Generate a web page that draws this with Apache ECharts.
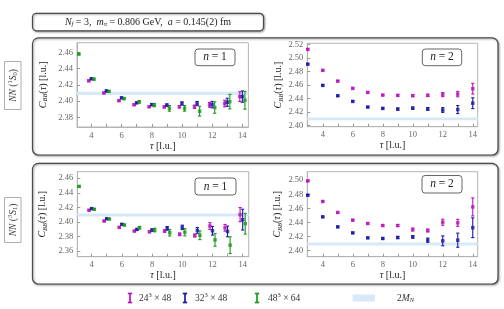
<!DOCTYPE html>
<html><head><meta charset="utf-8">
<script src="https://cdn.jsdelivr.net/npm/echarts@6/dist/echarts.min.js"></script>
<style>html,body{margin:0;padding:0;background:#fff}#c{width:504px;height:309px}</style>
</head><body><div id="c"></div>
<script>
// ---- data ----
const tau = [3,4,5,6,7,8,9,10,11,12,13,14];
const xTicks = [4,6,8,10,12,14];
const xMinorTicks = [4,5,6,7,8,9,10,11,12,13,14];
const band2MN = [2.4075, 2.4115];

// NN(1S0), n=1
const S0n1_L24 = [null,2.425,2.410,2.4005,2.3955,2.393,2.3928,2.393,2.393,2.3953,2.397,2.4055];
const S0n1_L24err = [null,0.001,0.001,0.001,0.001,0.001,0.0012,0.0015,0.002,0.003,0.004,0.006];
const S0n1_L32 = [null,2.4275,2.4125,2.404,2.3978,2.3956,2.395,2.397,2.397,2.3956,2.3985,2.4055];
const S0n1_L32err = [null,0.001,0.001,0.001,0.001,0.0012,0.0015,0.002,0.0025,0.004,0.005,0.007];
const S0n1_L48 = [2.458,2.427,2.412,2.403,2.399,2.395,2.391,2.391,2.3875,2.392,2.3993,2.401];
const S0n1_L48err = [0.001,0.001,0.001,0.0012,0.0015,0.002,0.0035,0.0035,0.006,0.007,0.009,0.011];
// NN(1S0), n=2
const S0n2_L24 = [2.513,2.4818,2.4658,2.455,2.449,2.445,2.4446,2.4442,2.4446,2.4457,2.4465,2.4545];
const S0n2_L24err = [0.001,0.001,0.001,0.001,0.001,0.001,0.0012,0.0014,0.0016,0.003,0.004,0.008];
const S0n2_L32 = [2.491,2.4594,2.444,2.4356,2.4272,2.4252,2.4242,2.4255,2.4245,2.4228,2.4235,2.433];
const S0n2_L32err = [0.001,0.001,0.001,0.001,0.001,0.0012,0.0015,0.0016,0.002,0.0035,0.006,0.008];
// NN(3S1), n=1
const S1n1_L24 = [null,2.416,2.4011,2.3924,2.3873,2.3863,2.3873,2.3828,2.3812,2.3942,2.3918,2.4099];
const S1n1_L24err = [null,0.001,0.001,0.001,0.001,0.0012,0.0015,0.0018,0.002,0.0046,0.0046,0.0097];
const S1n1_L32 = [null,2.4182,2.4043,2.3966,2.3896,2.3887,2.391,2.3924,2.3882,2.3877,2.3868,2.403];
const S1n1_L32err = [null,0.001,0.001,0.001,0.0012,0.0015,0.0025,0.003,0.004,0.006,0.0074,0.0143];
const S1n1_L48 = [2.4487,2.4173,2.4039,2.3956,2.3919,2.3887,2.385,2.3857,2.3815,2.3751,2.3679,2.3974];
const S1n1_L48err = [0.001,0.001,0.001,0.0012,0.0018,0.0025,0.0045,0.005,0.006,0.0087,0.0115,0.0143];
// NN(3S1), n=2
const S1n2_L24 = [2.499,2.4698,2.4542,2.4433,2.4386,2.4357,2.4357,2.430,2.4286,2.4404,2.4395,2.4621];
const S1n2_L24err = [0.001,0.001,0.001,0.001,0.001,0.0012,0.0014,0.002,0.002,0.0043,0.005,0.0128];
const S1n2_L32 = [2.4787,2.448,2.4338,2.4253,2.4182,2.4173,2.4187,2.4196,2.4149,2.414,2.4149,2.4326];
const S1n2_L32err = [0.001,0.001,0.001,0.001,0.001,0.0012,0.0015,0.0018,0.003,0.007,0.01,0.014];

const yTicksS0n1 = [2.38,2.40,2.42,2.44,2.46];
const yTicksS0n2 = [2.40,2.42,2.44,2.46,2.48,2.50,2.52];
const yTicksS1n1 = [2.36,2.38,2.40,2.42,2.44,2.46];
const yTicksS1n2 = [2.40,2.42,2.44,2.46,2.48,2.50];

const legendNames = ['24³ × 48','32³ × 48','48³ × 64'];
const panelLabels = [['NN (','1','S','0',')'],['NN (','3','S','1',')']];
const nLabels = ['1','2'];

// ---- styles ----
const serif = "'Liberation Serif','DejaVu Serif',serif";
const C24 = '#bb14bb', C32 = '#1a1aa6', C48 = '#1c981c';
const bandColor = '#d7e8f8';
const frameColor = '#b4b4b4';

const grids = [
  {left:77, top:42.7, width:171.4, height:84.3},
  {left:307.3, top:43.3, width:170.4, height:83.4},
  {left:77.3, top:171.7, width:171.4, height:85},
  {left:307.3, top:171.7, width:170.4, height:85}
];
const xRanges = [[3.05,14.4],[2.97,14.33],[3.05,14.4],[2.97,14.33]];
const yRanges = [[2.368,2.472],[2.398,2.522],[2.352,2.469],[2.3915,2.512]];
const yTickSets = [yTicksS0n1,yTicksS0n2,yTicksS1n1,yTicksS1n2];

const xAxes = grids.map((g,i)=>({
  gridIndex:i, type:'value', min:xRanges[i][0], max:xRanges[i][1],
  axisLine:{show:true, lineStyle:{color:frameColor,width:1}},
  axisTick:{show:true, inside:true, length:3, customValues:xMinorTicks, lineStyle:{color:'#999'}},
  axisLabel:{customValues:xTicks, fontSize:8.5, color:'#666', margin:4, fontFamily:serif},
  splitLine:{show:false}
}));
const yAxes = grids.map((g,i)=>({
  gridIndex:i, type:'value', min:yRanges[i][0], max:yRanges[i][1],
  axisLine:{show:true, lineStyle:{color:frameColor,width:1}},
  axisTick:{show:true, inside:true, length:3, customValues:yTickSets[i], lineStyle:{color:'#999'}},
  axisLabel:{customValues:yTickSets[i], fontSize:8.5, color:'#666', margin:4, fontFamily:serif,
    formatter:v=>v.toFixed(2)},
  splitLine:{show:false}
}));

const series = [];
function errRender(color){
  return function(params, api){
    const x = api.value(0), lo = api.value(1), hi = api.value(2);
    const p1 = api.coord([x,hi]), p2 = api.coord([x,lo]);
    const w = 1.6, st = {stroke:color, lineWidth:1.1};
    return {type:'group', children:[
      {type:'line', shape:{x1:p1[0],y1:p1[1],x2:p2[0],y2:p2[1]}, style:st},
      {type:'line', shape:{x1:p1[0]-w,y1:p1[1],x2:p1[0]+w,y2:p1[1]}, style:st},
      {type:'line', shape:{x1:p2[0]-w,y1:p2[1],x2:p2[0]+w,y2:p2[1]}, style:st}
    ]};
  };
}
function addSet(gi, vals, errs, color, off){
  const eb = [], pts = [];
  tau.forEach((t,k)=>{
    if(vals[k]==null) return;
    eb.push([t+off, vals[k]-errs[k], vals[k]+errs[k]]);
    pts.push([t+off, vals[k]]);
  });
  series.push({type:'custom', xAxisIndex:gi, yAxisIndex:gi, data:eb, renderItem:errRender(color), z:3, silent:true});
  series.push({type:'scatter', xAxisIndex:gi, yAxisIndex:gi, data:pts, symbol:'rect', symbolSize:3.5,
    itemStyle:{color:color}, z:4, silent:true});
}
grids.forEach((g,i)=>{
  series.push({type:'line', xAxisIndex:i, yAxisIndex:i, data:[], silent:true,
    markArea:{silent:true, itemStyle:{color:bandColor}, data:[[{yAxis:band2MN[0]},{yAxis:band2MN[1]}]]}});
});
addSet(0,S0n1_L24,S0n1_L24err,C24,-0.17);
addSet(0,S0n1_L32,S0n1_L32err,C32,0);
addSet(0,S0n1_L48,S0n1_L48err,C48,0.17);
addSet(1,S0n2_L24,S0n2_L24err,C24,0);
addSet(1,S0n2_L32,S0n2_L32err,C32,0);
addSet(2,S1n1_L24,S1n1_L24err,C24,-0.17);
addSet(2,S1n1_L32,S1n1_L32err,C32,0);
addSet(2,S1n1_L48,S1n1_L48err,C48,0.17);
addSet(3,S1n2_L24,S1n2_L24err,C24,0);
addSet(3,S1n2_L32,S1n2_L32err,C32,0);

// ---- text & decorations ----
const richMath = {
  i:{fontStyle:'italic', fontFamily:serif, fontSize:10, fill:'#222', verticalAlign:'middle', lineHeight:12},
  r:{fontFamily:serif, fontSize:10, fill:'#222', verticalAlign:'middle', lineHeight:12},
  s:{fontStyle:'italic', fontFamily:serif, fontSize:6.5, fill:'#222', verticalAlign:'bottom', lineHeight:12},
  u:{fontFamily:serif, fontSize:6.5, fill:'#222', verticalAlign:'top', lineHeight:12}
};
const g = [];
function panel(x,y,w,h,r){
  g.push({type:'rect', shape:{x,y,width:w,height:h,r}, z:-1,
    style:{fill:'#fff', stroke:'#4a4a4a', lineWidth:1.2, shadowBlur:2, shadowOffsetX:1, shadowOffsetY:1, shadowColor:'rgba(0,0,0,0.35)'}});
}
panel(32.5,13.3,231,17.5,4);
panel(32.5,37.8,465.5,117.2,6);
panel(32.5,163.3,465.5,120.7,6);
g.push({type:'text', x:148, y:22, z:5, style:{text:'{i|N}{s|f}{r| = 3,  }{i|m}{s|π}{r| = 0.806 GeV,  }{i|a}{r| = 0.145(2) fm}', rich:richMath, align:'center', verticalAlign:'middle'}});

// side labels
const richSide = {
  i:{fontStyle:'italic', fontFamily:serif, fontSize:9.5, fill:'#333', verticalAlign:'middle', lineHeight:12},
  r:{fontFamily:serif, fontSize:9.5, fill:'#333', verticalAlign:'middle', lineHeight:12},
  s:{fontFamily:serif, fontSize:6.5, fill:'#333', verticalAlign:'bottom', lineHeight:12},
  u:{fontFamily:serif, fontSize:6.5, fill:'#333', verticalAlign:'top', lineHeight:12}
};
[[4.5,61.5,16.5,48],[4.5,197.5,16.5,45]].forEach((b,k)=>{
  const p = panelLabels[k];
  g.push({type:'rect', shape:{x:b[0],y:b[1],width:b[2],height:b[3]}, style:{fill:'#fff', stroke:'#999', lineWidth:0.8}});
  g.push({type:'text', x:b[0]+b[2]/2+0.5, y:b[1]+b[3]/2, rotation:Math.PI/2, z:5,
    style:{text:'{i|NN}{r| (}{u|'+p[1]+'}{i|'+p[2]+'}{s|'+p[3]+'}{r|)}', rich:richSide, align:'center', verticalAlign:'middle'}});
});

// axis titles
const yTitleX = [43,278.5,42.5,277.5];
grids.forEach((gr,i)=>{
  g.push({type:'text', x:yTitleX[i], y:gr.top+gr.height/2, rotation:Math.PI/2, z:5,
    style:{text:'{i|C}{s|BB}{r|(}{i|τ}{r|) [l.u.]}', rich:richMath, align:'center', verticalAlign:'middle'}});
  g.push({type:'text', x:gr.left+gr.width/2, y:gr.top+gr.height+19, z:5,
    style:{text:'{i|τ}{r| [l.u.]}', rich:richMath, align:'center', verticalAlign:'middle'}});
});
// n boxes
const nBoxes = [[195,49,40,16.7],[422.3,49,39.4,16.7],[195,178,41,17],[422,175.5,40,17.5]];
nBoxes.forEach((b,i)=>{
  g.push({type:'rect', z:6, shape:{x:b[0],y:b[1],width:b[2],height:b[3],r:3},
    style:{fill:'#fff', stroke:'#666', lineWidth:1}});
  g.push({type:'text', z:7, x:b[0]+b[2]/2, y:b[1]+b[3]/2,
    style:{text:'{i|n}{r| = '+nLabels[i%2]+'}', rich:{
      i:{fontStyle:'italic', fontFamily:serif, fontSize:11.5, fill:'#222'},
      r:{fontFamily:serif, fontSize:11.5, fill:'#222'}}, align:'center', verticalAlign:'middle'}});
});
// legend
const legY = 298;
const legItems = [[130,139,C24],[185,195,C32],[257,268,C48]];
const richLeg = {
  r:{fontFamily:serif, fontSize:9.5, fill:'#333', verticalAlign:'middle', lineHeight:12},
  i:{fontFamily:serif, fontStyle:'italic', fontSize:9.5, fill:'#333', verticalAlign:'middle', lineHeight:12},
  u:{fontFamily:serif, fontSize:6.5, fill:'#333', verticalAlign:'top', lineHeight:12},
  s:{fontFamily:serif, fontStyle:'italic', fontSize:6.5, fill:'#333', verticalAlign:'bottom', lineHeight:12}
};
legItems.forEach((it,k)=>{
  const x = it[0], st = {stroke:it[2], lineWidth:1.7};
  g.push({type:'line', shape:{x1:x,y1:legY-4.5,x2:x,y2:legY+4.5}, style:st});
  g.push({type:'line', shape:{x1:x-2.2,y1:legY-4.5,x2:x+2.2,y2:legY-4.5}, style:st});
  g.push({type:'line', shape:{x1:x-2.2,y1:legY+4.5,x2:x+2.2,y2:legY+4.5}, style:st});
  const parts = legendNames[k].split('³');
  g.push({type:'text', x:it[1], y:legY, style:{text:'{r|'+parts[0]+'}{u|3}{r|'+parts[1]+'}', rich:richLeg, align:'left', verticalAlign:'middle'}});
});
g.push({type:'rect', shape:{x:352.7,y:legY-3.5,width:22.3,height:7}, style:{fill:bandColor}});
g.push({type:'text', x:397, y:legY, style:{text:'{r|2}{i|M}{s|N}', rich:richLeg, align:'left', verticalAlign:'middle'}});

const chart = echarts.init(document.getElementById('c'), null, {renderer:'canvas'});
chart.setOption({
  animation:false,
  backgroundColor:'#fff',
  grid: grids.map(gr=>Object.assign({show:true, borderColor:frameColor, borderWidth:1, backgroundColor:'transparent'}, gr)),
  xAxis:xAxes, yAxis:yAxes, series:series, graphic:g
});
</script></body></html>
